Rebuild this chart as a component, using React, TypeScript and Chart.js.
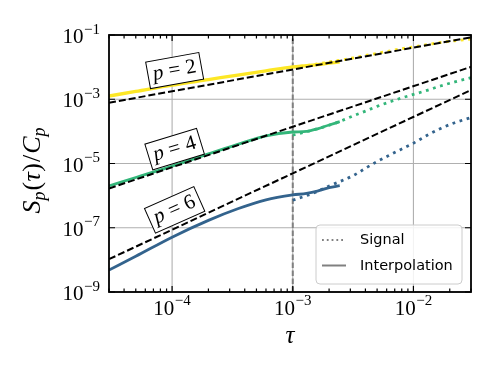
import React, { useEffect, useRef } from "react";
import { Chart, registerables } from "chart.js";

Chart.register(...registerables);

// ---------- data ----------
const tauInterp = [3e-5, 5e-5, 1e-4, 2e-4, 3.5e-4, 6e-4, 1e-3, 1.3e-3, 1.6e-3, 2e-3, 2.45e-3];
const interpP2 = [1.26e-3, 1.75e-3, 2.75e-3, 4.09e-3, 5.65e-3, 7.65e-3, 1.02e-2, 1.11e-2, 1.2e-2, 1.33e-2, 1.45e-2];
const interpP4 = [2.0e-6, 3.66e-6, 8.3e-6, 1.99e-5, 3.94e-5, 7.24e-5, 9.55e-5, 1.0e-4, 1.2e-4, 1.58e-4, 2.0e-4];
const interpP6 = [4.8e-9, 1.29e-8, 5.1e-8, 1.7e-7, 3.89e-7, 7.4e-7, 1.05e-6, 1.17e-6, 1.38e-6, 1.78e-6, 2.04e-6];

const tauSignal = [1e-3, 1.3e-3, 1.6e-3, 2e-3, 2.5e-3, 3.2e-3, 4e-3, 5e-3, 6.5e-3, 8e-3, 1e-2, 1.3e-2, 1.7e-2, 2.2e-2, 3e-2];
const signalP2 = [1.0e-2, 1.12e-2, 1.26e-2, 1.45e-2, 1.66e-2, 1.95e-2, 2.29e-2, 2.69e-2, 3.24e-2, 3.72e-2, 4.27e-2, 5.0e-2, 5.89e-2, 6.6e-2, 7.4e-2];
const signalP4 = [7.6e-5, 9.8e-5, 1.2e-4, 1.55e-4, 2.09e-4, 3.09e-4, 4.27e-4, 6.0e-4, 8.5e-4, 1.1e-3, 1.41e-3, 1.9e-3, 2.63e-3, 3.47e-3, 4.68e-3];
const signalP6 = [7.2e-7, 1.0e-6, 1.35e-6, 2.0e-6, 2.82e-6, 4.27e-6, 7.1e-6, 1.15e-5, 1.91e-5, 2.82e-5, 4.27e-5, 7.6e-5, 1.26e-4, 1.86e-4, 2.69e-4];

const tauFit = [3e-5, 3e-2];
const fitP2 = [7.8e-4, 8.5e-2];
const fitP4 = [1.67e-6, 1.02e-2];
const fitP6 = [1.05e-8, 1.94e-3];

const tauMarker = 1e-3;

const xMajorTicks = [1e-4, 1e-3, 1e-2];
const xTickExponents = ["\u22124", "\u22123", "\u22122"];
const yMajorTicks = [1e-9, 1e-7, 1e-5, 1e-3, 1e-1];
const yTickExponents = ["\u22129", "\u22127", "\u22125", "\u22123", "\u22121"];

const orders = ["2", "4", "6"];
const labelTau = 1.05e-4;
const labelValues = [7.8e-3, 2.8e-5, 3.6e-7];
const labelAngles = [10.3, 17, 24];

const legendLabels = ["Signal", "Interpolation"];

// ---------- style ----------
const C2 = "#fde725";
const C4 = "#33b67a";
const C6 = "#33638d";
const SERIF = '"Liberation Serif", "DejaVu Serif", serif';

const pts = (xs: number[], ys: number[]) => xs.map((x, i) => ({ x, y: ys[i] }));

const dotted = (data: any, color: string) => ({
  data,
  borderColor: color,
  borderWidth: 2.8,
  borderDash: [2.8, 4.6],
  borderCapStyle: "butt",
  pointRadius: 0,
  showLine: true,
  fill: false,
  cubicInterpolationMode: "monotone",
  order: 2,
});
const solid = (data: any, color: string, w: number) => ({
  data,
  borderColor: color,
  borderWidth: w,
  pointRadius: 0,
  showLine: true,
  fill: false,
  cubicInterpolationMode: "monotone",
  order: 1,
});
const dashed = (data: any) => ({
  data,
  borderColor: "#000000",
  borderWidth: 2,
  borderDash: [7, 3],
  borderCapStyle: "butt",
  pointRadius: 0,
  showLine: true,
  fill: false,
  order: 0,
});

function drawPow(ctx: CanvasRenderingContext2D, exp: string, x: number, baseline: number, align: "right" | "center") {
  ctx.font = `21px ${SERIF}`;
  const w10 = ctx.measureText("10").width;
  ctx.font = `15px ${SERIF}`;
  const ws = ctx.measureText(exp).width;
  const total = w10 + ws + 0.5;
  const start = align === "right" ? x - total : x - total / 2;
  ctx.textAlign = "left";
  ctx.textBaseline = "alphabetic";
  ctx.font = `21px ${SERIF}`;
  ctx.fillText("10", start, baseline);
  ctx.font = `15px ${SERIF}`;
  ctx.fillText(exp, start + w10 + 0.5, baseline - 9.5);
}

const decor = {
  id: "decor",
  beforeDatasetsDraw(chart: any) {
    const { ctx, chartArea: a, scales } = chart;
    const x = scales.x, y = scales.y;
    ctx.save();
    ctx.strokeStyle = "#b0b0b0";
    ctx.lineWidth = 1.1;
    ctx.beginPath();
    xMajorTicks.forEach((t) => {
      const px = x.getPixelForValue(t);
      ctx.moveTo(px, a.top);
      ctx.lineTo(px, a.bottom);
    });
    yMajorTicks.forEach((t) => {
      const py = y.getPixelForValue(t);
      ctx.moveTo(a.left, py);
      ctx.lineTo(a.right, py);
    });
    ctx.stroke();
    ctx.restore();
  },
  afterDraw(chart: any) {
    const { ctx, chartArea: a, scales } = chart;
    const x = scales.x, y = scales.y;
    ctx.save();

    // ticks
    ctx.strokeStyle = "#000";
    ctx.lineWidth = 1.2;
    ctx.beginPath();
    const xmin = x.min, xmax = x.max;
    for (let e = -5; e <= -1; e++) {
      for (let m = 1; m <= 9; m++) {
        const v = m * Math.pow(10, e);
        if (v < xmin * 0.999 || v > xmax * 1.001) continue;
        const px = x.getPixelForValue(v);
        const len = m === 1 ? 6 : 3.5;
        ctx.moveTo(px, a.bottom);
        ctx.lineTo(px, a.bottom - len);
        ctx.moveTo(px, a.top);
        ctx.lineTo(px, a.top + len);
      }
    }
    yMajorTicks.forEach((t) => {
      const py = y.getPixelForValue(t);
      ctx.moveTo(a.left, py);
      ctx.lineTo(a.left + 6, py);
      ctx.moveTo(a.right, py);
      ctx.lineTo(a.right - 6, py);
    });
    ctx.stroke();

    // frame
    ctx.lineWidth = 1.8;
    ctx.strokeRect(a.left, a.top, a.right - a.left, a.bottom - a.top);

    // tick labels
    ctx.fillStyle = "#000";
    xMajorTicks.forEach((t, i) => {
      drawPow(ctx, xTickExponents[i], x.getPixelForValue(t), a.bottom + 22.5, "center");
    });
    yMajorTicks.forEach((t, i) => {
      drawPow(ctx, yTickExponents[i], a.left - 9, y.getPixelForValue(t) + 8, "right");
    });

    // x title
    ctx.font = `italic 25px ${SERIF}`;
    ctx.textAlign = "center";
    ctx.textBaseline = "alphabetic";
    ctx.fillText("\u03c4", (a.left + a.right) / 2, a.bottom + 51);

    // y title
    const parts: [string, string, number][] = [
      ["S", "italic 26px", 0],
      ["p", "italic 18px", 5],
      ["(", "26px", 0],
      ["\u03c4", "italic 26px", 0],
      [")", "26px", 0],
      ["/", "26px", 0],
      ["C", "italic 26px", 0],
      ["p", "italic 18px", 5],
    ];
    const gaps = [0, 0, 1, 0.5, 0.5, 1, 1, 0];
    let total = 0;
    const widths = parts.map(([s, f], i) => {
      ctx.font = `${f} ${SERIF}`;
      const w = ctx.measureText(s).width + gaps[i];
      total += w;
      return w;
    });
    ctx.save();
    ctx.translate(39.5, (a.top + a.bottom) / 2 + 7);
    ctx.rotate(-Math.PI / 2);
    ctx.textAlign = "left";
    let cx = -total / 2;
    parts.forEach(([s, f, dy], i) => {
      ctx.font = `${f} ${SERIF}`;
      ctx.fillText(s, cx + gaps[i], dy);
      cx += widths[i];
    });
    ctx.restore();

    // p labels in boxes
    orders.forEach((p, i) => {
      const cxp = x.getPixelForValue(labelTau);
      const cyp = y.getPixelForValue(labelValues[i]);
      ctx.save();
      ctx.translate(cxp, cyp);
      ctx.rotate((-labelAngles[i] * Math.PI) / 180);
      const bw = 54, bh = 27;
      ctx.fillStyle = "#fff";
      ctx.fillRect(-bw / 2, -bh / 2, bw, bh);
      ctx.strokeStyle = "#000";
      ctx.lineWidth = 1;
      ctx.strokeRect(-bw / 2, -bh / 2, bw, bh);
      ctx.fillStyle = "#000";
      ctx.textAlign = "left";
      ctx.textBaseline = "alphabetic";
      ctx.font = `italic 21px ${SERIF}`;
      const wp = ctx.measureText("p").width;
      ctx.font = `21px ${SERIF}`;
      const we = ctx.measureText("=").width;
      const wd = ctx.measureText(p).width;
      const g = 5.5;
      const tw = wp + g + we + g + wd;
      let sx = -tw / 2;
      ctx.font = `italic 21px ${SERIF}`;
      ctx.fillText("p", sx, 5.5);
      sx += wp + g;
      ctx.font = `21px ${SERIF}`;
      ctx.fillText("=", sx, 5.5);
      sx += we + g;
      ctx.fillText(p, sx, 5.5);
      ctx.restore();
    });

    // legend
    ctx.save();
    const lx = 316, ly = 225, lw = 146, lh = 59;
    ctx.beginPath();
    (ctx as any).roundRect(lx, ly, lw, lh, 4);
    ctx.fillStyle = "rgba(255,255,255,0.85)";
    ctx.fill();
    ctx.strokeStyle = "#cccccc";
    ctx.lineWidth = 1;
    ctx.stroke();
    const rows = [240, 265.5];
    ctx.strokeStyle = "#808080";
    ctx.lineCap = "butt";
    ctx.lineWidth = 1.8;
    ctx.setLineDash([1.8, 3]);
    ctx.beginPath();
    ctx.moveTo(322, rows[0]);
    ctx.lineTo(346, rows[0]);
    ctx.stroke();
    ctx.setLineDash([]);
    ctx.lineWidth = 2;
    ctx.beginPath();
    ctx.moveTo(322, rows[1]);
    ctx.lineTo(346, rows[1]);
    ctx.stroke();
    ctx.fillStyle = "#000";
    ctx.font = '14.5px "DejaVu Sans", sans-serif';
    ctx.textAlign = "left";
    ctx.textBaseline = "middle";
    legendLabels.forEach((t, i) => ctx.fillText(t, 360, rows[i] + 0.5));
    ctx.restore();

    ctx.restore();
  },
};

export default function App() {
  const ref = useRef<HTMLCanvasElement>(null);
  useEffect(() => {
    document.body.style.margin = "0";
    const chart = new Chart(ref.current as HTMLCanvasElement, {
      type: "scatter",
      data: {
        datasets: [
          {
            data: [
              { x: tauMarker, y: 1e-9 },
              { x: tauMarker, y: 1e-1 },
            ],
            borderColor: "#808080",
            borderWidth: 2,
            borderDash: [5.5, 2.5],
            pointRadius: 0,
            showLine: true,
            fill: false,
            order: 3,
          } as any,
          dotted(pts(tauSignal, signalP2), C2),
          dotted(pts(tauSignal, signalP4), C4),
          dotted(pts(tauSignal, signalP6), C6),
          solid(pts(tauInterp, interpP2), C2, 3.3),
          solid(pts(tauInterp, interpP4), C4, 2.8),
          solid(pts(tauInterp, interpP6), C6, 2.8),
          dashed(pts(tauFit, fitP2)),
          dashed(pts(tauFit, fitP4)),
          dashed(pts(tauFit, fitP6)),
        ] as any,
      },
      options: {
        responsive: false,
        animation: false,
        devicePixelRatio: 1,
        layout: { padding: { left: 109, top: 35, right: 27, bottom: 82 } },
        plugins: { legend: { display: false }, tooltip: { enabled: false } },
        scales: {
          x: {
            type: "logarithmic",
            min: 3e-5,
            max: 3e-2,
            grid: { display: false },
            border: { display: false },
            ticks: { display: false },
            afterFit: (s: any) => {
              s.height = 0;
            },
          },
          y: {
            type: "logarithmic",
            min: 1e-9,
            max: 1e-1,
            grid: { display: false },
            border: { display: false },
            ticks: { display: false },
            afterFit: (s: any) => {
              s.width = 0;
            },
          },
        },
      } as any,
      plugins: [decor],
    });
    return () => chart.destroy();
  }, []);
  return (
    <canvas
      ref={ref}
      width={498}
      height={374}
      style={{ display: "block", width: "498px", height: "374px" }}
    />
  );
}
